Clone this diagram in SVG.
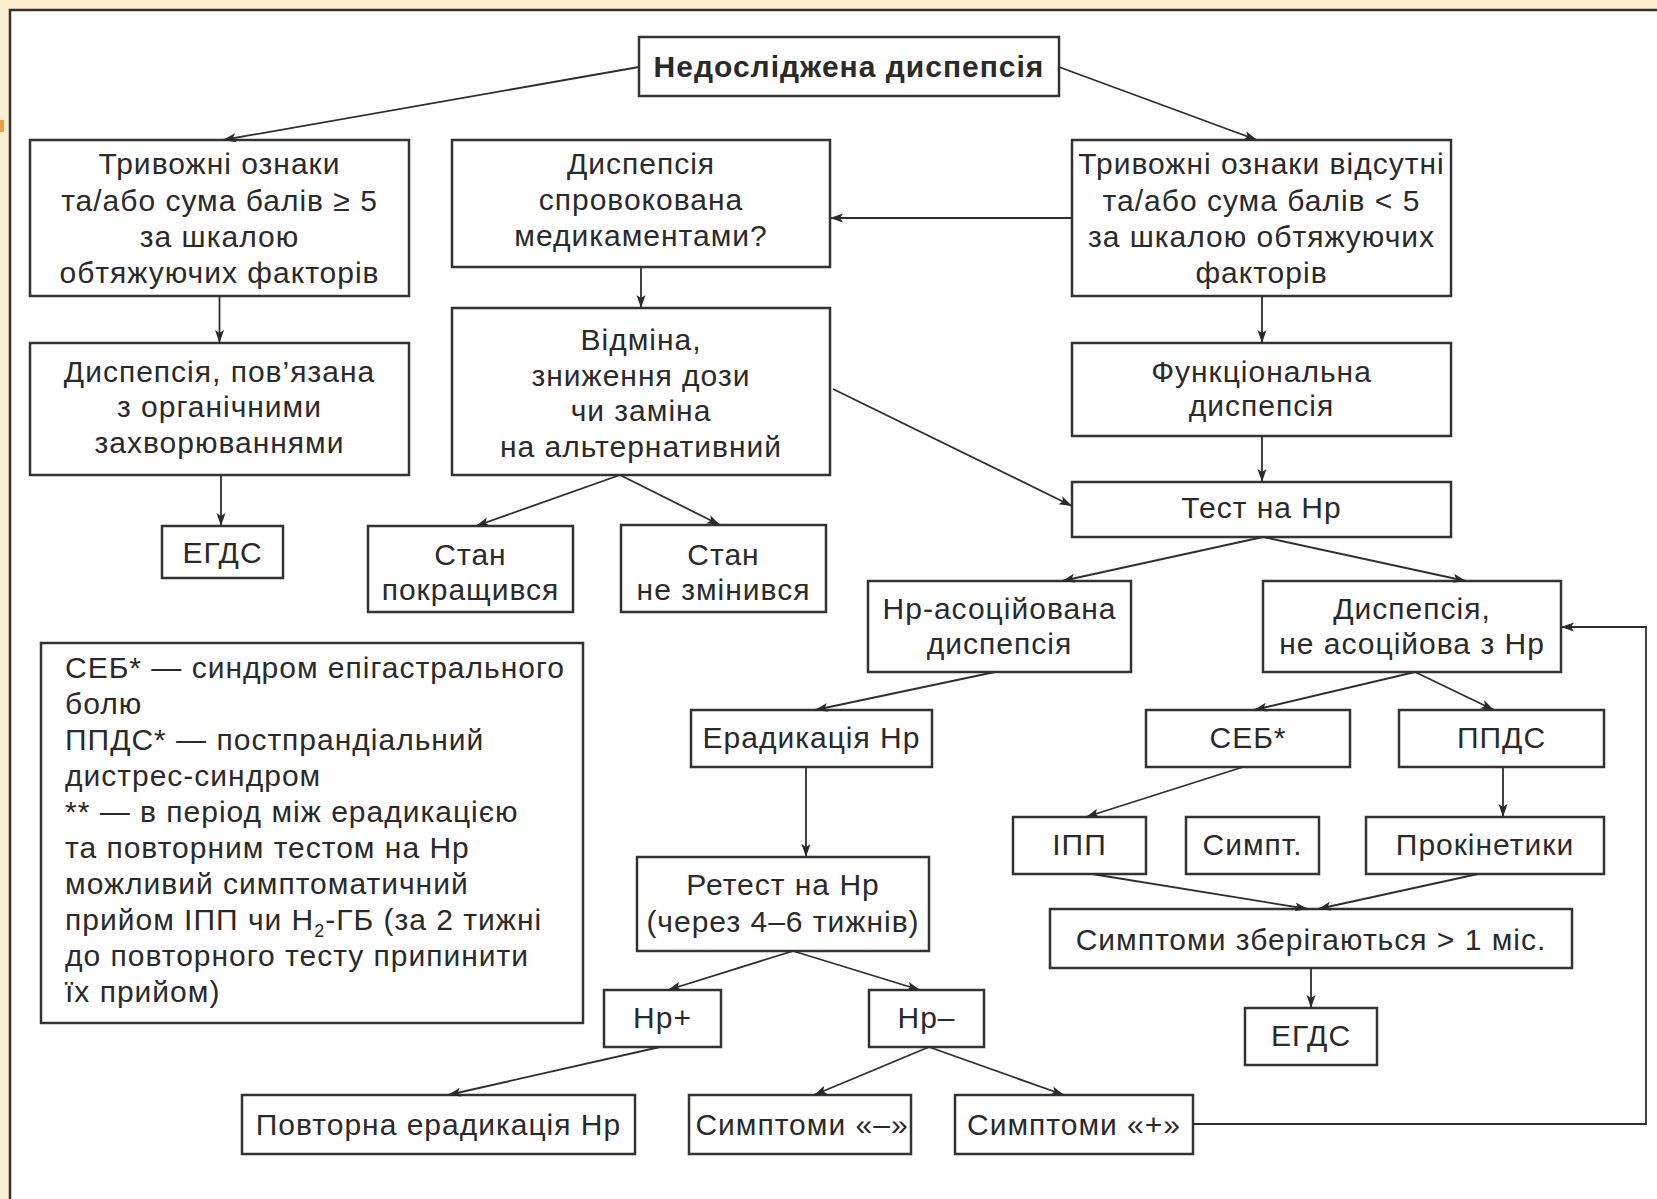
<svg xmlns="http://www.w3.org/2000/svg" width="1657" height="1199" viewBox="0 0 1657 1199">
<defs>
<marker id="ah" markerUnits="userSpaceOnUse" markerWidth="14" markerHeight="10" refX="13" refY="5" orient="auto">
<path d="M0,0.5 L13,5 L0,9.5 L3,5 z" fill="#2a2a2a"/>
</marker>
<style>
.box{fill:#fff;stroke:#333;stroke-width:2.5}
.t{font-family:"Liberation Sans",Arial,sans-serif;font-size:30px;fill:#2a2a2a;text-anchor:middle;letter-spacing:1px}
.b{font-weight:bold}
.lg{font-family:"Liberation Sans",Arial,sans-serif;font-size:30px;fill:#2a2a2a;letter-spacing:1px}
.c{fill:none;stroke:#2e2e2e;stroke-width:1.8;marker-end:url(#ah)}
</style>
</defs>
<rect x="0" y="0" width="1657" height="1199" fill="#fcefcf"/>
<rect x="10" y="10" width="1650" height="1192" fill="#fff"/>
<path d="M10,1199 L10,10 L1657,10" fill="none" stroke="#333" stroke-width="2.5"/>
<rect x="0" y="120" width="4" height="12" fill="#f0a040"/>

<g id="n-top"><rect class="box" x="639" y="37" width="420" height="59"/><text class="t b" x="849" y="77">Недосліджена диспепсія</text></g>
<g id="n-alarm"><rect class="box" x="30" y="140" width="379" height="156"/><text class="t" x="219.5" y="174">Тривожні ознаки</text><text class="t" x="219.5" y="211">та/або сума балів ≥ 5</text><text class="t" x="219.5" y="247">за шкалою</text><text class="t" x="219.5" y="283">обтяжуючих факторів</text></g>
<g id="n-drug"><rect class="box" x="452" y="140" width="378" height="127"/><text class="t" x="641" y="174">Диспепсія</text><text class="t" x="641" y="210">спровокована</text><text class="t" x="641" y="246">медикаментами?</text></g>
<g id="n-noalarm"><rect class="box" x="1072" y="140" width="379" height="156"/><text class="t" x="1261.5" y="174">Тривожні ознаки відсутні</text><text class="t" x="1261.5" y="211">та/або сума балів &lt; 5</text><text class="t" x="1261.5" y="247">за шкалою обтяжуючих</text><text class="t" x="1261.5" y="283">факторів</text></g>
<g id="n-organic"><rect class="box" x="30" y="343" width="379" height="132"/><text class="t" x="219.5" y="382">Диспепсія, пов’язана</text><text class="t" x="219.5" y="417">з органічними</text><text class="t" x="219.5" y="453">захворюваннями</text></g>
<g id="n-egds1"><rect class="box" x="162" y="526" width="121" height="52"/><text class="t" x="222.5" y="563">ЕГДС</text></g>
<g id="n-cancel"><rect class="box" x="452" y="308" width="378" height="167"/><text class="t" x="641" y="350">Відміна,</text><text class="t" x="641" y="385.5">зниження дози</text><text class="t" x="641" y="421">чи заміна</text><text class="t" x="641" y="456.5">на альтернативний</text></g>
<g id="n-better"><rect class="box" x="368" y="526" width="205" height="86"/><text class="t" x="470.5" y="565">Стан</text><text class="t" x="470.5" y="600">покращився</text></g>
<g id="n-same"><rect class="box" x="621" y="525" width="205" height="87"/><text class="t" x="723.5" y="565">Стан</text><text class="t" x="723.5" y="600">не змінився</text></g>
<g id="n-func"><rect class="box" x="1072" y="343" width="379" height="93"/><text class="t" x="1261.5" y="382">Функціональна</text><text class="t" x="1261.5" y="416">диспепсія</text></g>
<g id="n-test"><rect class="box" x="1072" y="482" width="379" height="55"/><text class="t" x="1261.5" y="518">Тест на Hp</text></g>
<g id="n-hpassoc"><rect class="box" x="868" y="581" width="263" height="91"/><text class="t" x="999.5" y="619">Hp-асоційована</text><text class="t" x="999.5" y="654">диспепсія</text></g>
<g id="n-nonassoc"><rect class="box" x="1263" y="581" width="298" height="91"/><text class="t" x="1412" y="619">Диспепсія,</text><text class="t" x="1412" y="654">не асоційова з Hp</text></g>
<g id="n-erad"><rect class="box" x="691" y="710" width="241" height="57"/><text class="t" x="811.5" y="748">Ерадикація Hp</text></g>
<g id="n-retest"><rect class="box" x="637" y="857" width="292" height="94"/><text class="t" x="783" y="895">Ретест на Hp</text><text class="t" x="783" y="932">(через 4–6 тижнів)</text></g>
<g id="n-seb"><rect class="box" x="1146" y="710" width="204" height="57"/><text class="t" x="1248" y="748">СЕБ*</text></g>
<g id="n-ppds"><rect class="box" x="1399" y="710" width="205" height="57"/><text class="t" x="1501.5" y="748">ППДС</text></g>
<g id="n-ipp"><rect class="box" x="1013" y="817" width="133" height="57"/><text class="t" x="1079.5" y="855">ІПП</text></g>
<g id="n-sympt"><rect class="box" x="1186" y="817" width="133" height="57"/><text class="t" x="1252.5" y="855">Симпт.</text></g>
<g id="n-prokin"><rect class="box" x="1366" y="817" width="238" height="57"/><text class="t" x="1485" y="855">Прокінетики</text></g>
<g id="n-persist"><rect class="box" x="1050" y="909" width="522" height="59"/><text class="t" x="1311" y="950">Симптоми зберігаються &gt; 1 міс.</text></g>
<g id="n-egds2"><rect class="box" x="1245" y="1008" width="132" height="57"/><text class="t" x="1311" y="1046">ЕГДС</text></g>
<g id="n-hpplus"><rect class="box" x="604" y="990" width="117" height="57"/><text class="t" x="662.5" y="1028">Hp+</text></g>
<g id="n-hpminus"><rect class="box" x="869" y="990" width="115" height="57"/><text class="t" x="926.5" y="1028">Hp–</text></g>
<g id="n-reerad"><rect class="box" x="242" y="1095" width="393" height="59"/><text class="t" x="438.5" y="1135">Повторна ерадикація Hp</text></g>
<g id="n-symminus"><rect class="box" x="689" y="1095" width="222" height="59"/><text class="t" x="802" y="1135">Симптоми «–»</text></g>
<g id="n-symplus"><rect class="box" x="955" y="1095" width="238" height="59"/><text class="t" x="1074" y="1135">Симптоми «+»</text></g>
<g id="legend"><rect class="box" x="41" y="643" width="542" height="380"/>
<text class="lg" x="65" y="677.5">СЕБ* — синдром епігастрального</text>
<text class="lg" x="65" y="713.6">болю</text>
<text class="lg" x="65" y="749.7">ППДС* — постпрандіальний</text>
<text class="lg" x="65" y="785.8">дистрес-синдром</text>
<text class="lg" x="65" y="821.9">** — в період між ерадикацією</text>
<text class="lg" x="65" y="858">та повторним тестом на Hp</text>
<text class="lg" x="65" y="894.1">можливий симптоматичний</text>
<text class="lg" x="65" y="930.2">прийом ІПП чи H<tspan font-size="18" dy="7">2</tspan><tspan dy="-7">-ГБ (за 2 тижні</tspan></text>
<text class="lg" x="65" y="966.3">до повторного тесту припинити</text>
<text class="lg" x="65" y="1002.4">їх прийом)</text>
</g>

<g id="connectors">
<line class="c" x1="639" y1="67" x2="223" y2="140"/>
<line class="c" x1="1059" y1="67" x2="1257" y2="140"/>
<line class="c" x1="1072" y1="218" x2="830" y2="218"/>
<line class="c" x1="219.5" y1="296" x2="219.5" y2="343"/>
<line class="c" x1="221" y1="475" x2="221" y2="526"/>
<line class="c" x1="641" y1="267" x2="641" y2="308"/>
<line class="c" x1="620" y1="475" x2="476" y2="526"/>
<line class="c" x1="620" y1="475" x2="720" y2="525"/>
<line class="c" x1="833" y1="389" x2="1072" y2="506"/>
<line class="c" x1="1262" y1="296" x2="1262" y2="343"/>
<line class="c" x1="1262" y1="436" x2="1262" y2="482"/>
<line class="c" x1="1263" y1="537" x2="1062" y2="581"/>
<line class="c" x1="1263" y1="537" x2="1466" y2="581"/>
<line class="c" x1="995" y1="672" x2="815" y2="710"/>
<line class="c" x1="806" y1="767" x2="806" y2="857"/>
<line class="c" x1="793" y1="951" x2="668" y2="990"/>
<line class="c" x1="793" y1="951" x2="920" y2="990"/>
<line class="c" x1="660" y1="1047" x2="448" y2="1095"/>
<line class="c" x1="929" y1="1047" x2="814" y2="1095"/>
<line class="c" x1="929" y1="1047" x2="1064" y2="1095"/>
<polyline class="c" points="1193,1124 1646,1124 1646,627 1561,627"/>
<line class="c" x1="1415" y1="672" x2="1254" y2="710"/>
<line class="c" x1="1415" y1="672" x2="1494" y2="710"/>
<line class="c" x1="1243" y1="767" x2="1086" y2="817"/>
<line class="c" x1="1503" y1="767" x2="1503" y2="817"/>
<line class="c" x1="1092" y1="874" x2="1308" y2="909"/>
<line class="c" x1="1478" y1="874" x2="1318" y2="909"/>
<line class="c" x1="1311" y1="968" x2="1311" y2="1008"/>
</g>
</svg>
